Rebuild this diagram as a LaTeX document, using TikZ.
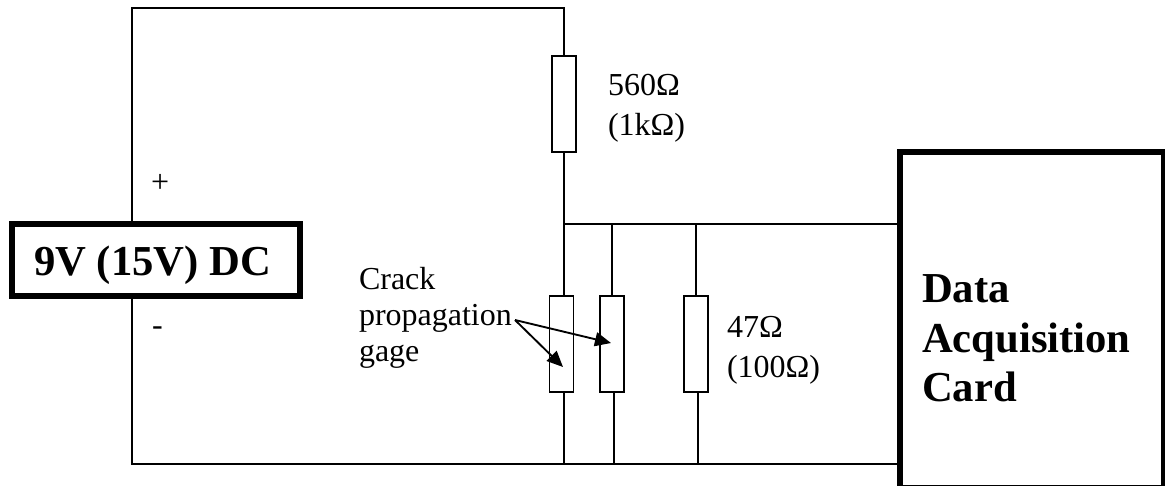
\documentclass[tikz,border=0pt]{standalone}
\usepackage{fontspec}
\setmainfont{Liberation Serif}
\usetikzlibrary{arrows.meta}
\tikzset{
  x=0.75pt,y=-0.75pt,
  wire/.style={line width=1.4pt,black},
  part/.style={draw=black,fill=white,line width=1.4pt,minimum width=18pt,minimum height=72pt,inner sep=0pt,outer sep=0pt},
  heavy/.style={draw=black,fill=white,line width=4.5pt,inner sep=0pt,outer sep=0pt},
  lab/.style={inner sep=0pt,outer sep=0pt,align=left,anchor=north west,font=\fontsize{24}{27}\selectfont},
  widelab/.style={lab,font=\fontsize{24}{30}\selectfont},
  pointer/.style={line width=1.4pt,-{Triangle[length=12pt,width=10.5pt]}}
}
\begin{document}
\begin{tikzpicture}
\useasboundingbox (0,0) rectangle (1165,486);
\fill[white] (0,0) rectangle (1165,486);
% coordinates
\coordinate (tl) at (132,8);
\coordinate (tr) at (564,8);
\coordinate (bl) at (132,464);
\coordinate (j1) at (564,224);
\coordinate (j2) at (612,224);
\coordinate (j3) at (696,224);
\coordinate (jr) at (900,224);
\coordinate (b1) at (564,464);
\coordinate (b2) at (614,464);
\coordinate (b3) at (698,464);
\coordinate (br) at (900,464);
% wires
\draw[wire,line cap=rect] (bl) -- (tl) -- (tr) -- (j1) -- (b1);
\draw[wire] (bl) -- (br);
\draw[wire] (j1) -- (jr);
\draw[wire] (j2) -- (612,300);
\draw[wire] (j3) -- (696,300);
\draw[wire] (614,390) -- (b2);
\draw[wire] (698,390) -- (b3);
% parts
\node[part] (r1) at (564,104) {};
\node[part] (g1) at (561.5,344) {};
\node[part] (g2) at (612,344) {};
\node[part] (r2) at (696,344) {};
\node[heavy,minimum width=216pt,minimum height=54pt] (src) at (156,260) {};
\node[heavy,minimum width=198pt,minimum height=252pt] (daq) at (1032,320) {};
% labels
\node[inner sep=0pt,font=\fontsize{32}{32}\selectfont\bfseries] (srct) at (152.5,265.5) {9V (15V) DC};
\node[lab,font=\fontsize{32}{37}\selectfont\bfseries] (daqt) at (922,275) {Data\\Acquisition\\Card};
\node[widelab] (rt1) at (608,74) {560Ω\\(1kΩ)};
\node[widelab] (rt2) at (727,316) {47Ω\\(100Ω)};
\node[lab] (crack) at (359,267) {Crack\\propagation\\gage};
\node[lab] (plus) at (151,174) {+};
\node[lab] (minus) at (152,327) {-};
\coordinate (c) at (515,320);
\draw[pointer] (c) -- (563,367);
\draw[pointer] (c) -- (611,343);
\end{tikzpicture}
\end{document}
